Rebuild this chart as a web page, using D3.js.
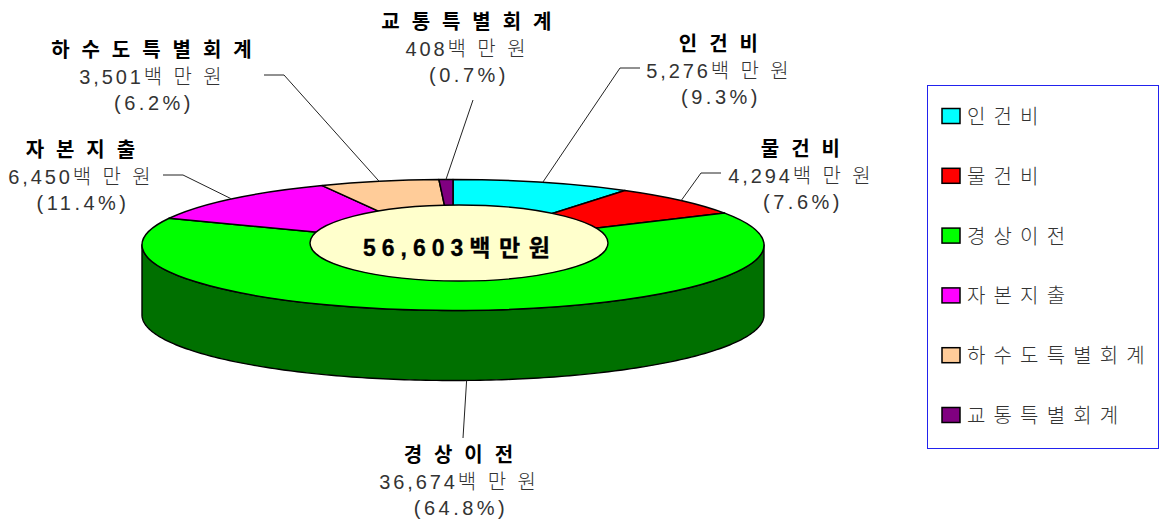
<!DOCTYPE html>
<html lang="ko"><head><meta charset="utf-8">
<script src="https://cdn.jsdelivr.net/npm/d3@7"></script>
<style>html,body{margin:0;background:#fff}svg{display:block}
text{font-family:"Liberation Sans","Noto Sans CJK KR",sans-serif}</style></head>
<body><svg id="c" width="1162" height="519"></svg>
<script>
const categories=["인건비","물건비","경상이전","자본지출","하수도특별회계","교통특별회계"];
const amounts=[5276,4294,36674,6450,3501,408];
const amountLabels=["5,276","4,294","36,674","6,450","3,501","408"];
const percentLabels=["9.3%","7.6%","64.8%","11.4%","6.2%","0.7%"];
const colors=["#00ffff","#ff0000","#00ff00","#ff00ff","#ffcc99","#800080"];
const wallColors=["#007f7f","#7f0000","#007000","#7f007f","#7f6650","#400040"];
const totalLabel="56,603";
const unit="백만원";

const svg=d3.select("#c");
const cx=453,cy=245,rx=311,ry=65.5,depth=70;
const px=a=>cx+rx*Math.sin(a), py=a=>cy-ry*Math.cos(a);
const spaced=s=>Array.from(s).join(" ");

const arcs=d3.pie().sort(null).value(d=>d)(amounts);
const line=d3.line();

const wall=svg.append("g");
arcs.forEach((d,i)=>{
  const a0=Math.max(d.startAngle,Math.PI/2),a1=Math.min(d.endAngle,Math.PI*1.5);
  if(a1<=a0)return;
  const ang=d3.range(0,181).map(k=>a0+(a1-a0)*k/180);
  const upper=ang.map(a=>[px(a),py(a)]);
  const lower=ang.slice().reverse().map(a=>[px(a),py(a)+depth]);
  wall.append("path").attr("d",line(upper.concat(lower))+"Z").attr("fill",wallColors[i])
   .attr("stroke","#000").attr("stroke-width",1.4).attr("stroke-linejoin","round");
});
const arc=d3.arc().innerRadius(0).outerRadius(rx);
const face=svg.append("g").attr("transform",`translate(${cx},${cy}) scale(1,${ry/rx})`);
face.selectAll("path").data(arcs).join("path").attr("d",arc)
  .attr("fill",(d,i)=>colors[i]).attr("stroke","#000").attr("stroke-width",1.5)
  .attr("stroke-linejoin","round").attr("vector-effect","non-scaling-stroke");
svg.append("ellipse").attr("cx",459).attr("cy",243).attr("rx",149).attr("ry",38)
  .attr("fill","#ffffcc").attr("stroke","#000").attr("stroke-width",1.4);
const total=svg.append("text").attr("x",458).attr("y",256).attr("text-anchor","middle")
  .attr("font-size",23).attr("font-weight",700).attr("fill","#000")
  .attr("stroke","#000").attr("stroke-width",0.3);
total.append("tspan").attr("letter-spacing","6px").text(totalLabel);
total.append("tspan").attr("letter-spacing","3.3px").text(spaced(unit).replace(/ /g,"\u200a"));

const layout=[
 {x:719,y:51,ex:620,ey:68,tx:640},
 {x:801,y:156,ex:701,ey:173,tx:721},
 {x:459,y:462,ex:463,ey:438,tx:null},
 {x:81,y:157,ex:183,ey:175,tx:163},
 {x:152,y:57,ex:284,ey:75,tx:264},
 {x:467,y:29,ex:473,ey:100,tx:null}
];
arcs.forEach((d,i)=>{
  const L=layout[i],m=(d.startAngle+d.endAngle)/2;
  const ax=px(m),ay=py(m)+(i==2?depth:0);
  const pts=[[ax,ay],[L.ex,L.ey]];
  if(L.tx!==null)pts.push([L.tx,L.ey]);
  svg.append("path").attr("d",line(pts)).attr("fill","none").attr("stroke","#222").attr("stroke-width",1);
  const t=svg.append("g").attr("text-anchor","middle");
  t.append("text").attr("x",L.x+1).attr("y",L.y).attr("font-size",20).attr("font-weight",700)
    .attr("fill","#000").attr("letter-spacing","3.2px").text(spaced(categories[i]));
  t.append("text").attr("x",L.x).attr("y",L.y+27).attr("font-size",20).attr("font-weight",300)
    .attr("fill","#333").attr("letter-spacing","2.9px").text(amountLabels[i]+spaced(unit));
  t.append("text").attr("x",L.x+2).attr("y",L.y+53).attr("font-size",20).attr("font-weight",300)
    .attr("fill","#333").attr("letter-spacing","3.5px").text("("+percentLabels[i]+")");
});

const lg=svg.append("g");
lg.append("rect").attr("x",927.5).attr("y",85.5).attr("width",231).attr("height",363)
  .attr("fill","#fff").attr("stroke","#2222ee").attr("stroke-width",1);
const ly=d3.scalePoint().domain(categories).range([116,415]);
categories.forEach((c,i)=>{
  lg.append("rect").attr("x",942).attr("y",ly(c)-7.5).attr("width",18).attr("height",15)
    .attr("fill",colors[i]).attr("stroke","#000").attr("stroke-width",1.5);
  lg.append("text").attr("x",967).attr("y",ly(c)+8).attr("font-size",20).attr("font-weight",300)
    .attr("fill","#333").attr("letter-spacing","1.3px").text(spaced(c));
});
</script></body></html>
